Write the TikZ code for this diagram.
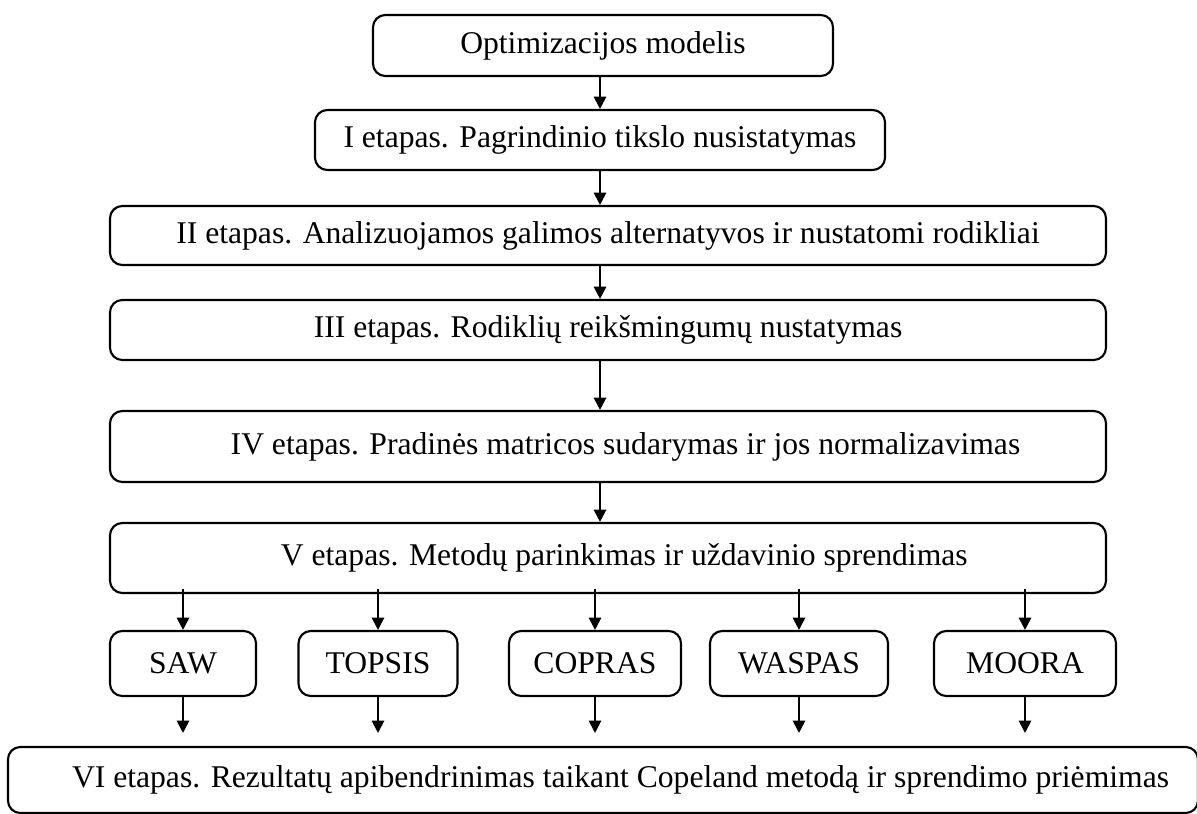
\documentclass[tikz,border=0pt]{standalone}
\usepackage{fontspec}
\setmainfont{Liberation Serif}
\usepackage{tikz}
\usetikzlibrary{arrows.meta,positioning}

\begin{document}
\begin{tikzpicture}[x=0.02cm,y=-0.02cm,
  stagebox/.style={draw, line width=1.2pt, rounded corners=7pt, inner sep=0pt,
    font=\fontsize{18}{20}\selectfont},
  arr/.style={-{Triangle[length=7pt,width=7pt]}, line width=1.2pt}]

\useasboundingbox (0,0) rectangle (1197,814);

% Stages
\node[stagebox, minimum width=460*0.02cm, minimum height=61*0.02cm] (model) at (603,45.5) {Optimizacijos modelis};
\node[stagebox, minimum width=570*0.02cm, minimum height=60*0.02cm] (st1) at (600,140) {I etapas. Pagrindinio tikslo nusistatymas};
\node[stagebox, minimum width=996*0.02cm, minimum height=59*0.02cm] (st2) at (608,235.5) {II etapas. Analizuojamos galimos alternatyvos ir nustatomi rodikliai};
\node[stagebox, minimum width=996*0.02cm, minimum height=60*0.02cm] (st3) at (608,330) {III etapas. Rodiklių reikšmingumų nustatymas};
\node[stagebox, minimum width=996*0.02cm, minimum height=71*0.02cm] (st4) at (608,446.5) {\hspace*{0.7cm}IV etapas. Pradinės matricos sudarymas ir jos normalizavimas};
\node[stagebox, minimum width=996*0.02cm, minimum height=70*0.02cm] (st5) at (608,558) {\hspace*{0.65cm}V etapas. Metodų parinkimas ir uždavinio sprendimas};

% Methods
\node[stagebox, minimum width=146*0.02cm, minimum height=65*0.02cm] (saw) at (183,663.5) {SAW};
\node[stagebox, minimum width=159*0.02cm, minimum height=65*0.02cm] (topsis) at (378,663.5) {TOPSIS};
\node[stagebox, minimum width=172*0.02cm, minimum height=65*0.02cm] (copras) at (595,663.5) {COPRAS};
\node[stagebox, minimum width=178*0.02cm, minimum height=65*0.02cm] (waspas) at (799,663.5) {WASPAS};
\node[stagebox, minimum width=182*0.02cm, minimum height=65*0.02cm] (moora) at (1025,663.5) {MOORA};

% Last stage
\node[stagebox, minimum width=1190*0.02cm, minimum height=66*0.02cm] (st6) at (603,780) {\hspace*{0.7cm}VI etapas. Rezultatų apibendrinimas taikant Copeland metodą ir sprendimo priėmimas};

% Arrows
\draw[arr] (model.south -| st1) -- (st1.north);
\draw[arr] (st1.south) -- (st1.south |- st2.north);
\draw[arr] (st2.south -| st1) -- (st3.north -| st1);
\draw[arr] (st3.south -| st1) -- (st4.north -| st1);
\draw[arr] (st4.south -| st1) -- (st5.north -| st1);
\foreach \m in {saw,topsis,copras,waspas,moora} {
  \draw[arr] ([yshift=3pt]\m |- st5.south) -- (\m.north);
  \draw[arr, shorten >=0.26cm] (\m.south) -- (\m |- st6.north);
}

\end{tikzpicture}
\end{document}
